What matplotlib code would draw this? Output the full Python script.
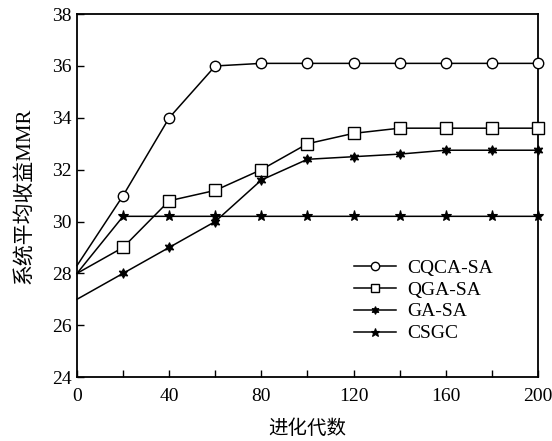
import matplotlib
matplotlib.use("Agg")
import matplotlib.pyplot as plt
from matplotlib.ticker import MultipleLocator

plt.rcParams['font.family'] = ['Liberation Serif', 'Noto Sans CJK SC']

gens = [0, 20, 40, 60, 80, 100, 120, 140, 160, 180, 200]
cqca_sa = [28.3, 31.0, 34.0, 36.0, 36.1, 36.1, 36.1, 36.1, 36.1, 36.1, 36.1]
qga_sa = [28.0, 29.0, 30.8, 31.2, 32.0, 33.0, 33.4, 33.6, 33.6, 33.6, 33.6]
ga_sa = [27.0, 28.0, 29.0, 30.0, 31.6, 32.4, 32.5, 32.6, 32.75, 32.75, 32.75]
csgc = [28.0, 30.2, 30.2, 30.2, 30.2, 30.2, 30.2, 30.2, 30.2, 30.2, 30.2]

fig = plt.figure(figsize=(5.52, 4.41), dpi=100)
ax = fig.add_axes([0.1395, 0.145, 0.835, 0.823])

lw = 1.1
# no marker at generation 0, as in the original figure
mk = slice(1, None)
ax.plot(gens, cqca_sa, color='black', lw=lw, marker='o', ms=7.5, markevery=mk,
        mfc='white', mec='black', mew=1.0, label='CQCA-SA', clip_on=False, zorder=3)
ax.plot(gens, qga_sa, color='black', lw=lw, marker='s', ms=8, markevery=mk,
        mfc='white', mec='black', mew=1.0, label='QGA-SA', clip_on=False, zorder=3)
ax.plot(gens, ga_sa, color='black', lw=lw, marker=(6, 1, 0), ms=7, markevery=mk,
        mfc='black', mec='black', mew=0.8, label='GA-SA', clip_on=False, zorder=3)
ax.plot(gens, csgc, color='black', lw=lw, marker='*', ms=8, markevery=mk,
        mfc='black', mec='black', mew=0.8, label='CSGC', clip_on=False, zorder=3)

ax.set_xlim(0, 200)
ax.set_ylim(24, 38)
ax.xaxis.set_major_locator(MultipleLocator(40))
ax.xaxis.set_minor_locator(MultipleLocator(20))
ax.yaxis.set_major_locator(MultipleLocator(2))
ax.tick_params(which='both', direction='in', length=5, width=1.0, labelsize=14,
               top=False, right=False)
ax.tick_params(axis='x', pad=8)
ax.tick_params(axis='y', pad=4)
for s in ax.spines.values():
    s.set_linewidth(1.3)

ax.set_xlabel('进化代数', fontsize=14, labelpad=10)
ax.set_ylabel('系统平均收益MMR', fontsize=15, labelpad=13)

ax.legend(loc='upper left', bbox_to_anchor=(0.6, 0.325), frameon=False,
          fontsize=14, handlelength=2.2, labelspacing=0.22, borderpad=0,
          borderaxespad=0, handletextpad=0.55, markerscale=0.8)

fig.savefig('out.png', dpi=100)
